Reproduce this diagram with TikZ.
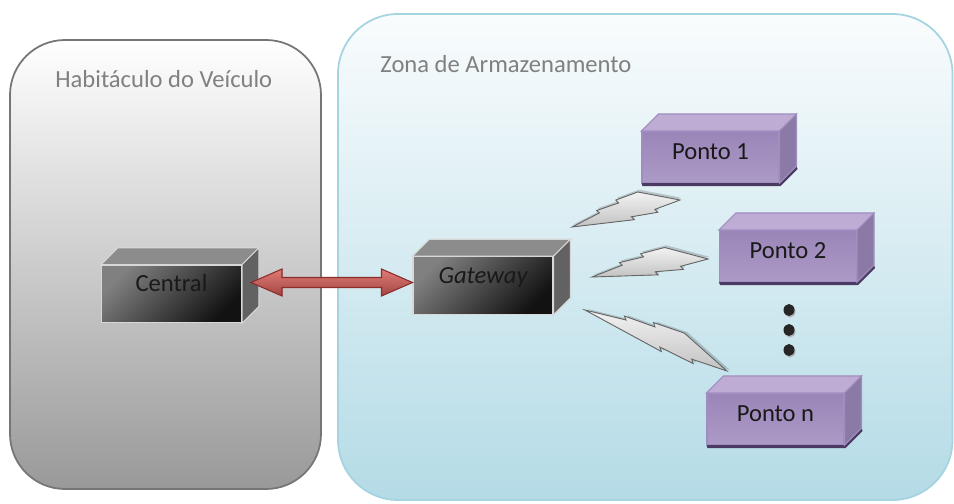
\documentclass[tikz,border=0pt]{standalone}
\usepackage{fontspec}
\setmainfont{Carlito}
\usepackage{tikz}
\usepackage{xcolor}
\definecolor{pnlgray}{RGB}{118,118,118}
\definecolor{pnlblue}{RGB}{165,211,224}
\definecolor{pnlbluetop}{RGB}{249,252,253}
\definecolor{pnlbluebot}{RGB}{180,219,230}
\definecolor{titlegray}{RGB}{128,128,128}
\definecolor{boxtop}{RGB}{140,140,140}
\definecolor{boxside}{RGB}{98,98,98}
\definecolor{boxedge}{RGB}{215,215,215}
\definecolor{prpfront}{RGB}{124,96,160}
\definecolor{prplight}{RGB}{180,164,205}
\definecolor{prptop}{RGB}{190,172,213}
\definecolor{prpside}{RGB}{140,122,166}
\definecolor{prpedge}{RGB}{160,142,192}
\definecolor{prpshadow}{RGB}{75,58,100}
\definecolor{arrred}{RGB}{192,80,77}
\definecolor{arrredlt}{RGB}{224,124,118}
\definecolor{arrreddk}{RGB}{140,45,42}
\usetikzlibrary{calc,positioning}

\tikzset{
    raio/.pic={
        % soft shadow
        \fill[black, opacity=0.18, shift={(1.5,-2)}]
            (0,0) -- (27,-7) -- (25,-10) -- (46,-12) -- (44,-15.5) -- (65,-18) -- (100,0)
            -- (76,3) -- (78,6.5) -- (54,4.5) -- (56,8) -- cycle;
        \filldraw[draw=gray!80!black, line width=0.5pt, top color=gray!10, bottom color=gray!48]
            (0,0) -- (27,-7) -- (25,-10) -- (46,-12) -- (44,-15.5) -- (65,-18) -- (100,0)
            -- (76,3) -- (78,6.5) -- (54,4.5) -- (56,8) -- cycle;
    }
}

\begin{document}
\begin{tikzpicture}[x=0.02cm, y=-0.02cm,
    every node/.style={font=\fontsize{14}{17}\selectfont},
    titulo/.style={text=titlegray, inner sep=0pt},
    graybox/.style={draw=boxedge, line width=0.6pt, inner sep=0pt,
        minimum width=2.8cm, minimum height=1.15cm, text height=9pt, text depth=11.4pt,
        shading=axis, top color=black!50, bottom color=black!93, shading angle=45,
        text=black!90},
    purplebox/.style={draw=prpedge, line width=0.6pt, inner sep=0pt,
        minimum width=2.74cm, minimum height=1.02cm, text height=9pt, text depth=6.6pt,
        top color=prplight!55!prpfront, middle color=prpfront, bottom color=prplight!85!prpfront,
        text=black!90},
    blockarrow/.style={draw=arrreddk, line width=0.6pt, top color=arrredlt, bottom color=arrred!85!black}
]
    \useasboundingbox (0,0) rectangle (954,504);

    % Panels
    \draw[pnlgray, line width=1pt, rounded corners=1.1cm, top color=white, bottom color=black!40]
        (10,40) rectangle (321,489);
    \draw[pnlblue, line width=1pt, rounded corners=1.2cm, top color=pnlbluetop, bottom color=pnlbluebot]
        (338,14) rectangle (952.5,500);

    \node[titulo, anchor=base west] (tithab) at (55,87) {Habitáculo do Veículo};
    \node[titulo, anchor=base west] (titzona) at (380,72) {Zona de Armazenamento};

    % Gray boxes
    \node[graybox] (central) at (171.5,294) {Central};
    \node[graybox] (gateway) at (483,285.5) {\itshape Gateway};

    \foreach \n in {central,gateway} {
        \filldraw[boxtop, draw=boxedge, line width=0.6pt] (\n.north west) -- ++(17,-17)
            -- ($(\n.north east)+(17,-17)$) -- (\n.north east) -- cycle;
        \filldraw[boxside, draw=boxedge, line width=0.6pt] (\n.north east) -- ++(17,-17)
            -- ($(\n.south east)+(17,-17)$) -- (\n.south east) -- cycle;
    }

    % Purple boxes
    \node[purplebox] (ponto1) at (710.5,157) {Ponto 1};
    \node[purplebox] (ponto2) at (788,256) {Ponto 2};
    \node[purplebox] (pontoN) at (775.5,419) {Ponto n};

    \foreach \n in {ponto1,ponto2,pontoN} {
        \fill[prpshadow] (\n.south west) -- ++(1,3) -- ($(\n.south east)+(1,3)$)
            -- ($(\n.south east)+(18,-14)$) -- ($(\n.south east)+(17,-17)$) -- (\n.south east) -- cycle;
        \filldraw[prptop, draw=prpedge, line width=0.6pt] (\n.north west) -- ++(17,-17)
            -- ($(\n.north east)+(17,-17)$) -- (\n.north east) -- cycle;
        \filldraw[prpside, draw=prpedge, line width=0.6pt] (\n.north east) -- ++(17,-17)
            -- ($(\n.south east)+(17,-17)$) -- (\n.south east) -- cycle;
    }

    % Red double arrow
    \coordinate (setaini) at ($(central.east |- gateway.west)+(9,-3)$);
    \coordinate (setafim) at ($(gateway.west)+(0,-3)$);
    \filldraw[blockarrow] (setaini) -- ++(31,-13.5) -- ++(0,8.5) -- ($(setafim)+(-31,-5)$)
        -- ++(0,-8.5) -- (setafim) -- ++(-31,13.5) -- ++(0,-8.5) -- ($(setaini)+(31,5)$)
        -- ++(0,8.5) -- cycle;

    % Wireless links
    \pic[rotate=14.04, xscale=1.113] at (572,227) {raio};
    \pic[rotate=8.82, xscale=1.174] at (592,277) {raio};
    \pic[rotate=-23.25, xscale=1.545] at (585,310) {raio};

    % Dots
    \foreach \y in {310,330,350} {
        \fill[black!30] (790,\y+1.5) ellipse (0.11cm and 0.12cm);
        \fill[black!85] (789,\y) ellipse (0.11cm and 0.12cm);
    }
\end{tikzpicture}
\end{document}
